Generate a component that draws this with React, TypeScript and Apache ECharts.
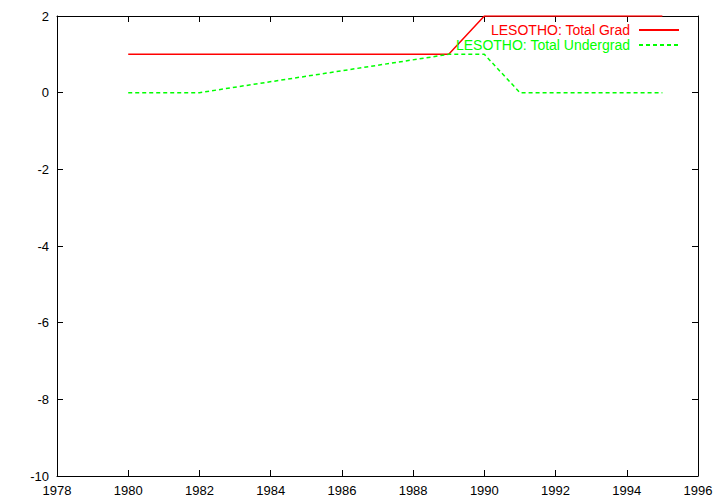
import React, { useEffect, useRef } from "react";
import * as echarts from "echarts";

const years = [1980, 1981, 1982, 1983, 1984, 1985, 1986, 1987, 1988, 1989, 1990, 1991, 1992, 1993, 1994, 1995];
const totalGrad = [1, 1, 1, 1, 1, 1, 1, 1, 1, 1, 2, 2, 2, 2, 2, 2];
const totalUndergrad = [0, null, 0, null, null, null, null, null, null, 1, 1, 0, 0, 0, 0, 0];
const seriesNames = ["LESOTHO: Total Grad", "LESOTHO: Total Undergrad"];

const FONT = "Liberation Sans";

export default function App() {
  const ref = useRef<HTMLDivElement>(null);
  useEffect(() => {
    const chart = echarts.init(ref.current!, null, { renderer: "svg" });
    const axisCommon = {
      axisLine: { show: true, onZero: false, lineStyle: { color: "#000", width: 1 } },
      axisTick: { show: true, inside: true, length: 6, lineStyle: { color: "#000" } },
      splitLine: { show: false },
    };
    const gradData = years.map((y, i) => [y, totalGrad[i]]);
    const underData = years
      .map((y, i) => [y, totalUndergrad[i]])
      .filter((d) => d[1] !== null);
    chart.setOption({
      animation: false,
      backgroundColor: "#fff",
      grid: { left: 57, top: 16, width: 641, height: 460, containLabel: false },
      xAxis: [
        {
          type: "value",
          min: 1978,
          max: 1996,
          interval: 2,
          position: "bottom",
          ...axisCommon,
          axisLabel: {
            color: "#000",
            fontFamily: FONT,
            fontSize: 13,
            margin: 8,
            formatter: (v: number) => String(v),
          },
        },
        {
          type: "value",
          min: 1978,
          max: 1996,
          interval: 2,
          position: "top",
          ...axisCommon,
          axisLabel: { show: false },
        },
      ],
      yAxis: [
        {
          type: "value",
          min: -10,
          max: 2,
          interval: 2,
          position: "left",
          ...axisCommon,
          axisLabel: { color: "#000", fontFamily: FONT, fontSize: 13, margin: 8 },
        },
        {
          type: "value",
          min: -10,
          max: 2,
          interval: 2,
          position: "right",
          ...axisCommon,
          axisLabel: { show: false },
        },
      ],
      legend: {
        orient: "vertical",
        right: 40,
        top: 23,
        align: "right",
        itemGap: 1,
        itemWidth: 40,
        itemHeight: 13,
        padding: 0,
        itemStyle: { opacity: 0 },
        textStyle: { fontFamily: FONT, fontSize: 14, lineHeight: 13, padding: [0, 4, 0, 0] },
        data: [
          { name: seriesNames[0], textStyle: { color: "#ff0000" } },
          { name: seriesNames[1], textStyle: { color: "#00ff00" } },
        ],
      },
      series: [
        {
          name: seriesNames[0],
          type: "line",
          data: gradData,
          symbol: "none",
          lineStyle: { color: "#ff0000", width: 1.5 },
          itemStyle: { color: "#ff0000" },
        },
        {
          name: seriesNames[1],
          type: "line",
          data: underData,
          symbol: "none",
          lineStyle: { color: "#00ff00", width: 1.5, type: [4, 3] },
          itemStyle: { color: "#00ff00" },
        },
      ],
    });
    return () => chart.dispose();
  }, []);
  return (
    <div
      ref={ref}
      style={{ position: "fixed", left: 0, top: 0, width: 720, height: 504, background: "#fff" }}
    />
  );
}
